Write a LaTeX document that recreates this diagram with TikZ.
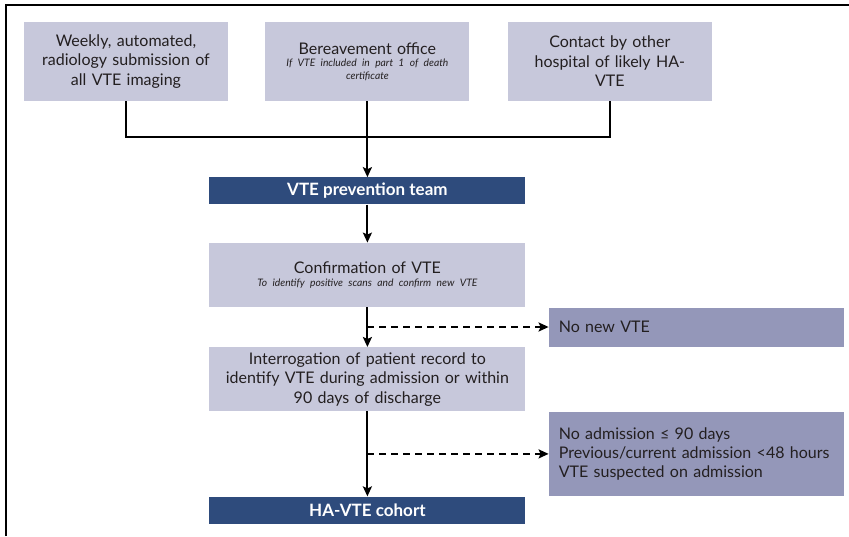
\documentclass[tikz,border=0pt]{standalone}
\usepackage{fontspec}
\setmainfont{Lato}
\usetikzlibrary{positioning, calc, arrows.meta}
\definecolor{boxlight}{HTML}{C7C8DB}
\definecolor{boxmid}{HTML}{9497B9}
\definecolor{boxdark}{HTML}{2E4B7C}
\definecolor{ink}{HTML}{231F20}
\tikzset{
  x = 1pt, y = -1pt,
  > = {Stealth[length = 10pt, width = 9pt, inset = 2pt]},   % solid arrowheads
  source/.style = {fill = boxlight, text = ink, align = center, inner sep = 0pt,
    text width = 194pt, minimum width = 204pt, minimum height = 79pt,
    font = \fontsize{16}{19.5}\selectfont},
  stage/.style = {source, text width = 306pt, minimum width = 316pt, minimum height = 64pt},
  team/.style = {fill = boxdark, text = white, inner sep = 0pt,
    minimum width = 316pt, minimum height = 27pt, font = \fontsize{17}{18}\selectfont\bfseries},
  outcome/.style = {fill = boxmid, text = ink, align = left, inner sep = 0pt,
    text width = 275pt, minimum width = 295pt, font = \fontsize{16}{19}\selectfont},
  flow/.style = {->, line width = 2pt},
  branch/.style = {flow, dash pattern = on 7pt off 5pt}
}
\newcommand \subnote [1] {{\fontsize{10.3}{12.5}\selectfont\itshape #1\par}}
\def \hgap {37pt}

\begin{document}
\begin{tikzpicture}
\useasboundingbox (0,0) rectangle (849,536);

%% Frame
\draw [line width = 2pt] (6,536) -- (6,5) -- (849,5);

%% Sources
\node [source] (radiology) at (126,61.5) {Weekly, automated,\\radiology submission of\\all VTE imaging};
\node [source] (bereave) [right = \hgap of radiology] {Bereavement office\par
  \subnote{If VTE included in part 1 of death\\certificate}};
\node [source] (other) [right = 38pt of bereave] {Contact by other\\hospital of likely HA-\\VTE};
\coordinate (join) at ($(bereave.south) + (0,36)$);

%% Main column
\node [team] (team) [below = 76pt of bereave] {VTE prevention team};
\node [stage] (confirm) [below = 38pt of team] {Confirmation of VTE\par
  \subnote{To identify positive scans and confirm new VTE}};
\node [stage] (interrog) [below = 40pt of confirm] {Interrogation of patient record to\\identify VTE during admission or within\\90 days of discharge};
\node [team] (cohort) [below = 85pt of interrog] {HA-VTE cohort};

%% Exclusions
\coordinate (split1) at ($(confirm.south) !0.5! (interrog.north)$);
\coordinate (split2) at ($(interrog.south) !0.5! (cohort.north)$);
\node [outcome, minimum height = 39pt, anchor = west] (nonew) at ($(split1 -| confirm.east) + (23,0)$) {No new VTE};
\node [outcome, minimum height = 84pt, anchor = west] (excluded) at ($(split2 -| interrog.east) + (23,0)$)
  {No admission ≤ 90 days\\Previous/current admission <48 hours\\VTE suspected on admission};

%% Connectors
\draw [line width = 2pt] (radiology.south) |- (join) -| (other.south);
\draw [flow] (bereave.south) -- (team.north);
\draw [flow] (team.south) -- (confirm.north);
\draw [flow] (confirm.south) -- (interrog.north);
\draw [flow] (interrog.south) -- (cohort.north);
\draw [branch] (split1) -- (nonew.west);
\draw [branch] (split2) -- (excluded.west);

\end{tikzpicture}
\end{document}
